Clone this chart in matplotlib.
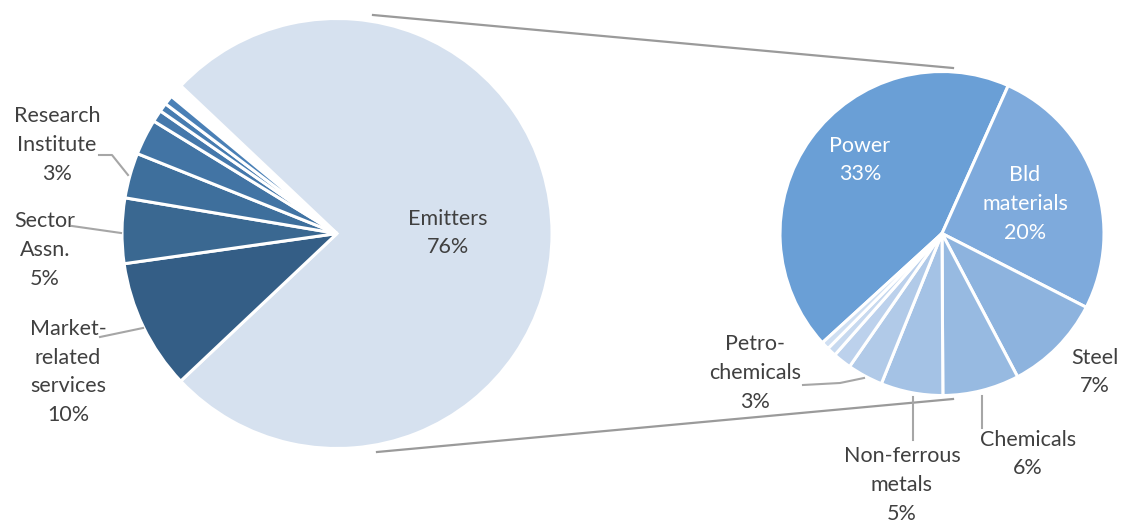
import matplotlib
matplotlib.use("Agg")
import matplotlib.pyplot as plt
import numpy as np

W, H = 1121, 523

# participants (share of all, %)
left_names = ["Emitters", "Market-\nrelated\nservices", "Sector\nAssn.", "Research\nInstitute",
              "", "", "", ""]
left_values = [75.9, 9.8, 4.9, 3.4, 2.7, 0.9, 0.65, 0.7]
left_colors = ["#d6e1ef", "#345e86", "#3a6891", "#3e6f9c", "#4274a4", "#4578ab", "#477cb0", "#4a80b6"]

# emitters broken down by sector (share of all, %)
right_names = ["Power", "Bld\nmaterials", "Steel", "Chemicals", "Non-ferrous\nmetals",
               "Petro-\nchemicals", "", "", ""]
right_values = [33.0, 19.6, 7.4, 5.8, 4.7, 2.7, 1.4, 0.7, 0.6]
right_colors = ["#6a9fd6", "#7eaadc", "#8db3de", "#97bae1", "#a4c2e5", "#b1cae8",
                "#bcd1ec", "#c7d9ef", "#cfdff2"]


def px(x, y):
    # pixel position (origin top-left) -> data coords
    return x, H - y


plt.rcParams["font.family"] = ["Lato", "DejaVu Sans"]
fig = plt.figure(figsize=(W / 100, H / 100), dpi=100)
ax = fig.add_axes([0, 0, 1, 1])

wp = dict(edgecolor="white", linewidth=2.2)

# main pie, emitters pulled out a little
lc = px(337, 233.5)
lr = 215
ax.pie(np.array(left_values) / 100, normalize=False, colors=left_colors,
       explode=[5 / lr] + [0] * (len(left_values) - 1),
       startangle=136.6, counterclock=False, center=lc, radius=lr,
       wedgeprops=wp)

# secondary pie
rc = px(942, 233.5)
rr = 162
ax.pie(right_values, colors=right_colors, startangle=222.4, counterclock=False,
       center=rc, radius=rr, wedgeprops=wp)

# connectors between the two pies
line_kw = dict(color="#9a9a9a", lw=1.6, zorder=0)
ax.plot(*zip(px(373, 15), px(953, 68)), **line_kw)
ax.plot(*zip(px(377, 452), px(953, 399)), **line_kw)

# leader lines
lead_kw = dict(color="#a6a6a6", lw=1.5)
leaders = [
    [(99, 155), (112, 155), (128, 175)],
    [(72, 226), (121, 233)],
    [(100, 337), (143, 328)],
    [(803, 385), (840, 383), (864, 378)],
    [(913, 397), (913, 440)],
    [(982, 396), (982, 428)],
]
for pts in leaders:
    xs, ys = zip(*[px(x, y) for x, y in pts])
    ax.plot(xs, ys, **lead_kw)

txt_kw = dict(ha="center", va="center", fontsize=15.5, linespacing=1.55,
              multialignment="center")
dark = "#404040"

left_pos = {0: (448, 233), 1: (68, 372), 2: (45, 250), 3: (57, 145)}
for i, (x, y) in left_pos.items():
    ax.text(*px(x, y), f"{left_names[i]}\n{left_values[i]:.0f}%", color=dark, **txt_kw)

right_pos = {0: (860, 160, "white"), 1: (1025, 204, "white"), 2: (1095, 372, dark),
             3: (1028, 454, dark), 4: (902, 485, dark), 5: (755, 373, dark)}
for i, (x, y, c) in right_pos.items():
    ax.text(*px(x, y), f"{right_names[i]}\n{right_values[i]:.0f}%", color=c, **txt_kw)

ax.set_xlim(0, W)
ax.set_ylim(0, H)
ax.set_aspect("auto")
ax.axis("off")

fig.savefig("out.png", dpi=100)
